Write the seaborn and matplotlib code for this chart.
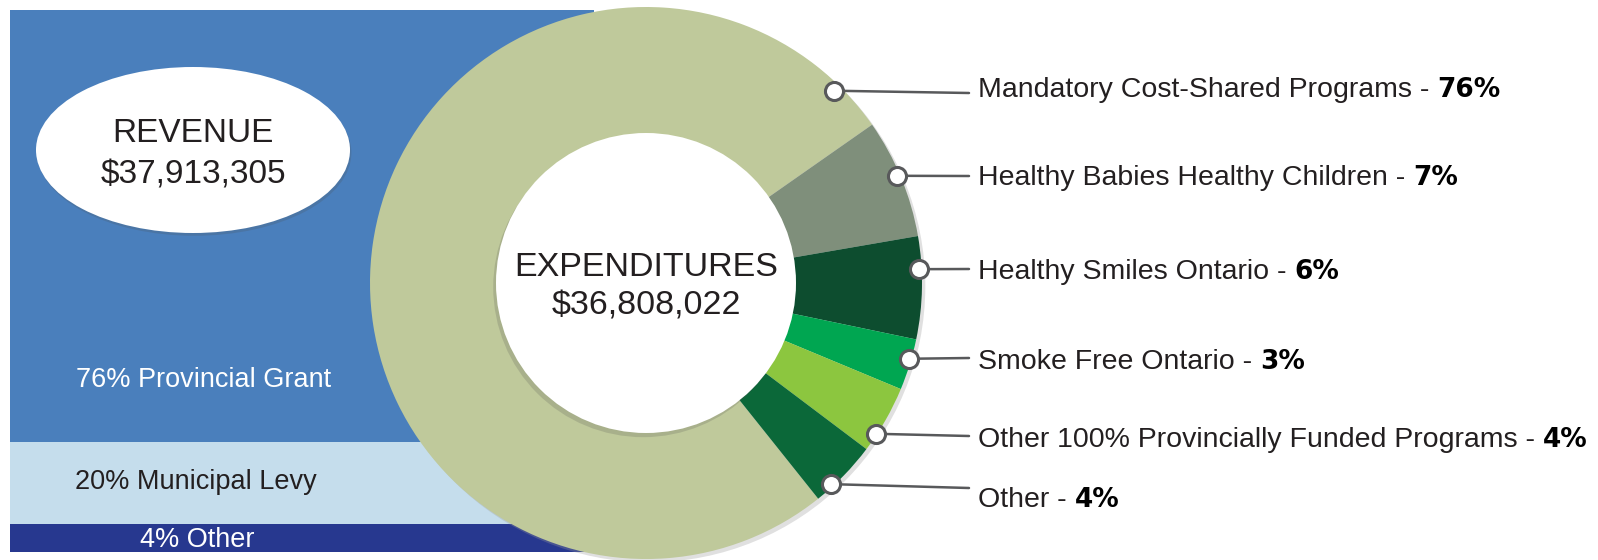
import numpy as np
import pandas as pd
import matplotlib
matplotlib.use('Agg')
import matplotlib.pyplot as plt
import matplotlib.transforms as mtransforms
import matplotlib.patheffects as pe
from matplotlib.patches import Ellipse, Circle
import seaborn as sns

# dados de receita (faixas da barra empilhada, de cima para baixo)
revenue_labels = ['76% Provincial Grant', '20% Municipal Levy', '4% Other']
revenue_band = [79.7, 15.1, 5.2]   # altura das faixas como aparecem no desenho
revenue_total = '$37,913,305'

# dados de despesa (rosca)
exp_labels = ['Mandatory Cost-Shared Programs', 'Healthy Babies Healthy Children',
              'Healthy Smiles Ontario', 'Smoke Free Ontario',
              'Other 100% Provincially Funded Programs', 'Other']
exp_pct = [76, 7, 6, 3, 4, 4]
exp_total = '$36,808,022'

# cores
rev_colors = ['#4A7FBC', '#C5DDEC', '#27388F']
exp_colors = ['#BFC99B', '#7F8F7B', '#0D4D2F', '#00A651', '#8CC63F', '#0B6839']

sns.set_theme(style='white')
plt.rcParams['font.family'] = ['Liberation Sans', 'DejaVu Sans']

W, H = 1598, 560
fig = plt.figure(figsize=(W / 100, H / 100), dpi=100)
# coordenadas em pixels com origem no canto superior esquerdo
px = mtransforms.Affine2D().scale(1 / W, -1 / H).translate(0, 1) + fig.transFigure

# barra da receita
ax_bar = fig.add_axes([10 / W, (H - 552) / H, 584 / W, 542 / H])
cum = np.cumsum(revenue_band[::-1])[::-1]
for h, c in zip(cum, rev_colors):
    sns.barplot(x=['Revenue'], y=[h], color=c, saturation=1, width=1, linewidth=0, ax=ax_bar)
ax_bar.set_xlim(-0.5, 0.5)
ax_bar.set_ylim(0, cum[0])
ax_bar.axis('off')

ell = Ellipse((193, 150), 314, 166, transform=px, facecolor='white', edgecolor='none',
              path_effects=[pe.SimplePatchShadow(offset=(1, -2), alpha=0.2), pe.Normal()])
ax_bar.add_artist(ell)
ax_bar.text(193, 133, 'REVENUE', transform=px, ha='center', va='center', fontsize=24, color='#231F20')
ax_bar.text(193, 175, revenue_total, transform=px, ha='center', va='center', fontsize=24, color='#231F20')

left_pos = [(204, 380), (196, 482), (197, 540)]
left_col = ['white', '#231F20', 'white']
for lab, (x, y), c in zip(revenue_labels, left_pos, left_col):
    ax_bar.text(x, y, lab, transform=px, ha='center', va='center', fontsize=19.5, color=c)

# rosca das despesas
cx, cy, R = 646, 283, 276
half = 280
ax_pie = fig.add_axes([(cx - half) / W, (H - cy - half) / H, 2 * half / W, 2 * half / H])

ax_pie.add_patch(Circle((0.012, -0.012), 1.0, facecolor='#999999', alpha=0.3, edgecolor='none',
                        zorder=0))
start = 35 + 360 * exp_pct[0] / 100
wedges, _ = ax_pie.pie(exp_pct, colors=exp_colors, startangle=start, counterclock=False,
                       radius=1.0, wedgeprops=dict(linewidth=0))
lim = half / R
ax_pie.set_xlim(-lim, lim)
ax_pie.set_ylim(-lim, lim)
ax_pie.set_aspect('equal')
ax_pie.axis('off')

inner = Circle((0, 0), 150 / R, facecolor='white', edgecolor='none', zorder=3,
               path_effects=[pe.SimplePatchShadow(offset=(-2, -3), alpha=0.2), pe.Normal()])
ax_pie.add_patch(inner)
ax_pie.text(0, (cy - 267) / R, 'EXPENDITURES', ha='center', va='center', fontsize=24.5,
            color='#231F20', zorder=4)
ax_pie.text(0, (cy - 306) / R, exp_total, ha='center', va='center', fontsize=24.5,
            color='#231F20', zorder=4)

# marcadores e linhas de chamada
marker_deg = [45.6, 23.1, 2.9, -16.1, -33.3, -47.4]
marker_r = [0.975, 0.99, 0.99, 0.99, 0.995, 0.99]
line_end_y = [93, 176, 269, 358, 436, 488]
label_base = [97, 185, 279, 369, 447, 507]
label_x = 978

for i in range(len(exp_labels)):
    a = np.radians(marker_deg[i])
    mx, my = marker_r[i] * np.cos(a), marker_r[i] * np.sin(a)
    ax_pie.annotate('', xy=(mx, my), xycoords='data', xytext=(969, line_end_y[i]),
                    textcoords=px, annotation_clip=False,
                    arrowprops=dict(arrowstyle='-', color='#58595B', lw=1.8,
                                    shrinkA=0, shrinkB=0), zorder=5)
    ax_pie.plot(mx, my, 'o', ms=13, mfc='white', mec='#58595B', mew=2.2, clip_on=False,
                zorder=6)

fig.canvas.draw()
rend = fig.canvas.get_renderer()
for i, lab in enumerate(exp_labels):
    t = fig.text(label_x, label_base[i], lab + ' - ', transform=px, ha='left', va='baseline',
                 fontsize=20.5, color='#231F20')
    bb = t.get_window_extent(renderer=rend)
    fig.text(bb.x1, H - label_base[i], f'{exp_pct[i]}%', transform=None, ha='left',
             va='baseline', fontsize=19, fontweight='bold', family='DejaVu Sans', color='#000000')

fig.savefig('out.png', dpi=100)
print('ok')
